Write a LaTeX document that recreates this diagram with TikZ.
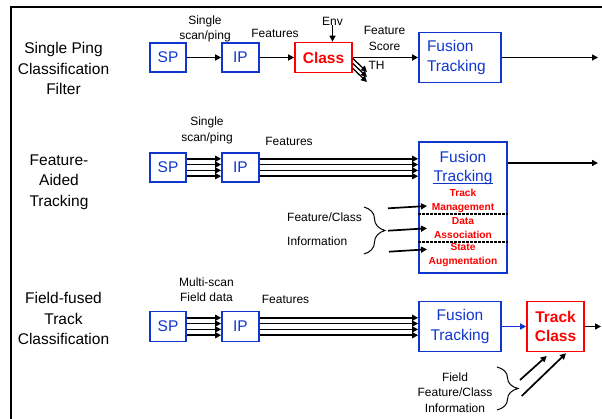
\documentclass[tikz,border=0pt]{standalone}
\usepackage{fontspec}
\setmainfont{Liberation Sans}
\usetikzlibrary{arrows.meta}
\usetikzlibrary{decorations.pathreplacing}
\definecolor{fblue}{RGB}{15,55,205}

\begin{document}
\begin{tikzpicture}[x=1pt,y=-1pt,
	box/.style={draw=fblue,line width=1.7pt,text=fblue,font=\fontsize{15.5}{20}\selectfont,inner sep=0pt},
	redbox/.style={draw=red,line width=1.7pt,text=red,font=\bfseries\fontsize{15.5}{19.5}\selectfont,inner sep=0pt,align=center},
	lab/.style={font=\fontsize{12}{15.5}\selectfont,align=center,inner sep=0pt},
	title/.style={font=\fontsize{15.5}{20.5}\selectfont,align=center,inner sep=0pt},
	sub/.style={text=red,font=\bfseries\fontsize{10.2}{14}\selectfont,align=center,inner sep=0pt},
	arr/.style={line width=1.7pt,-{Triangle[length=6pt,width=6pt]}},
	brc/.style={line width=1pt,decorate,decoration={brace,amplitude=21pt}}]
	\useasboundingbox (0,0) rectangle (602,419);
	\draw[line width=2.7pt] (11,419)--(11,7)--(602,7);
	
	% single ping
	\node[title] (t1) at (63.5,68.5) {Single Ping\\Classification\\Filter};
	\node[box,minimum width=36,minimum height=29] (sp1) at (168,57.5) {SP};
	\node[box,minimum width=37,minimum height=29] (ip1) at (240.5,57.5) {IP};
	\node[redbox,minimum width=57,minimum height=30] (cls) at (323.5,57.5) {Class};
	\node[box,minimum width=82,minimum height=50,text width=66,align=left] (fus1) at (460,57.5) {Fusion\\Tracking};
	\node[lab] (in1) at (205,29) {Single\\scan/ping};
	\node[lab] (ft1) at (275,33.5) {Features};
	\node[lab] (env) at (332.5,21) {Env};
	\node[lab] (sc1) at (384.5,38.5) {Feature\\Score};
	\node[lab] (th) at (376.5,65) {TH};
	\coordinate (out1) at (598,57.5);
	\draw[arr] (sp1)--(ip1);
	\draw[arr] (ip1)--(cls);
	\draw[arr] (cls)--(fus1);
	\draw[arr] (fus1)--(out1);
	\draw[arr] (env.south)--(env.south |- cls.north);
	\foreach \i in {0,1,2}
		\coordinate (th\i) at (367,72+5*\i);
	\foreach \i in {0,1,2}
		\draw[arr,line width=1.3pt] ([yshift={-5pt*\i-1pt}]cls.east)--(th\i);
	
	% feature aided
	\node[title] (t2) at (59,182) {Feature-\\Aided\\Tracking};
	\node[box,minimum width=36,minimum height=29] (sp2) at (168,167.5) {SP};
	\node[box,minimum width=37,minimum height=29] (ip2) at (240.5,167.5) {IP};
	\node[box,minimum width=88,minimum height=131] (fus2) at (463,207.5) {};
	\node[lab] (in2) at (207,130.5) {Single\\scan/ping};
	\node[lab] (ft2) at (289,141) {Features};
	\node[box,draw=none] (fn2) at (463,157) {Fusion};
	\node[box,draw=none] (tk2) at (463,177) {Tracking};
	\draw[fblue,line width=1pt] ([yshift=-2pt]tk2.base west)--([yshift=-2pt]tk2.base east);
	\node[sub] (tm) at (463,201) {Track\\Management};
	\node[sub] (da) at (463,228) {Data\\Association};
	\node[sub] (sa) at (463,255.5) {State\\Augmentation};
	\coordinate (d1) at (463,214);
	\coordinate (d2) at (463,242);
	\draw[line width=1.1pt,dash pattern=on 2.5pt off 1.5pt] (fus2.west |- d1)--(fus2.east |- d1);
	\draw[line width=1.1pt,dash pattern=on 2.5pt off 1.5pt] (fus2.west |- d2)--(fus2.east |- d2);
	\foreach \k in {-8.7,-2.9,2.9,8.7}{
		\draw[arr] ([yshift=\k pt]sp2.east)--([yshift=\k pt]ip2.west);
		\draw[arr] ([yshift=\k pt]ip2.east)--([yshift=\k pt]ip2.east -| fus2.west);
	}
	\coordinate (out2) at (598,163);
	\draw[arr] (fus2.east |- out2)--(out2);
	\node[lab,anchor=west] (fc2) at (287,217) {Feature/Class};
	\node[lab,anchor=west] (inf2) at (287,241) {Information};
	\coordinate (b2a) at (364,207);
	\coordinate (b2b) at (364,254);
	\draw[brc] (b2a)--(b2b);
	\coordinate (a1s) at (388,208.3);
	\coordinate (a1e) at (427,206);
	\coordinate (a2s) at (388,230.7);
	\coordinate (a2e) at (427,228.3);
	\coordinate (a3s) at (389,251.7);
	\coordinate (a3e) at (427,249.3);
	\draw[arr] (a1s)--(a1e);
	\draw[arr] (a2s)--(a2e);
	\draw[arr] (a3s)--(a3e);
	
	% field fused
	\node[title] (t3) at (63.5,318.5) {Field-fused\\Track\\Classification};
	\node[box,minimum width=36,minimum height=30] (sp3) at (168,326.5) {SP};
	\node[box,minimum width=37,minimum height=30] (ip3) at (240.5,326.5) {IP};
	\node[box,minimum width=82,minimum height=50,align=center] (fus3) at (460,326.5) {Fusion\\Tracking};
	\node[redbox,minimum width=57,minimum height=50] (tc) at (555.5,326.5) {Track\\Class};
	\node[lab] (in3) at (206.5,289.5) {Multi-scan\\Field data};
	\node[lab] (ft3) at (285.5,299.3) {Features};
	\foreach \k in {-8.7,-2.9,2.9,8.7}{
		\draw[arr] ([yshift=\k pt]sp3.east)--([yshift=\k pt]ip3.west);
		\draw[arr] ([yshift=\k pt]ip3.east)--([yshift=\k pt]ip3.east -| fus3.west);
	}
	\draw[arr,fblue] (fus3)--(tc);
	\coordinate (out3) at (601,326.5);
	\draw[arr] (tc)--(out3);
	\node[lab] (ff3) at (455,392.5) {Field\\Feature/Class\\Information};
	\coordinate (b3a) at (497,367);
	\coordinate (b3b) at (497,410);
	\draw[brc] (b3a)--(b3b);
	\coordinate (c1s) at (520,380);
	\coordinate (c1e) at (546.7,356);
	\coordinate (c2s) at (521.7,396);
	\coordinate (c2e) at (566,353.3);
	\draw[arr] (c1s)--(c1e);
	\draw[arr] (c2s)--(c2e);
\end{tikzpicture}
\end{document}
